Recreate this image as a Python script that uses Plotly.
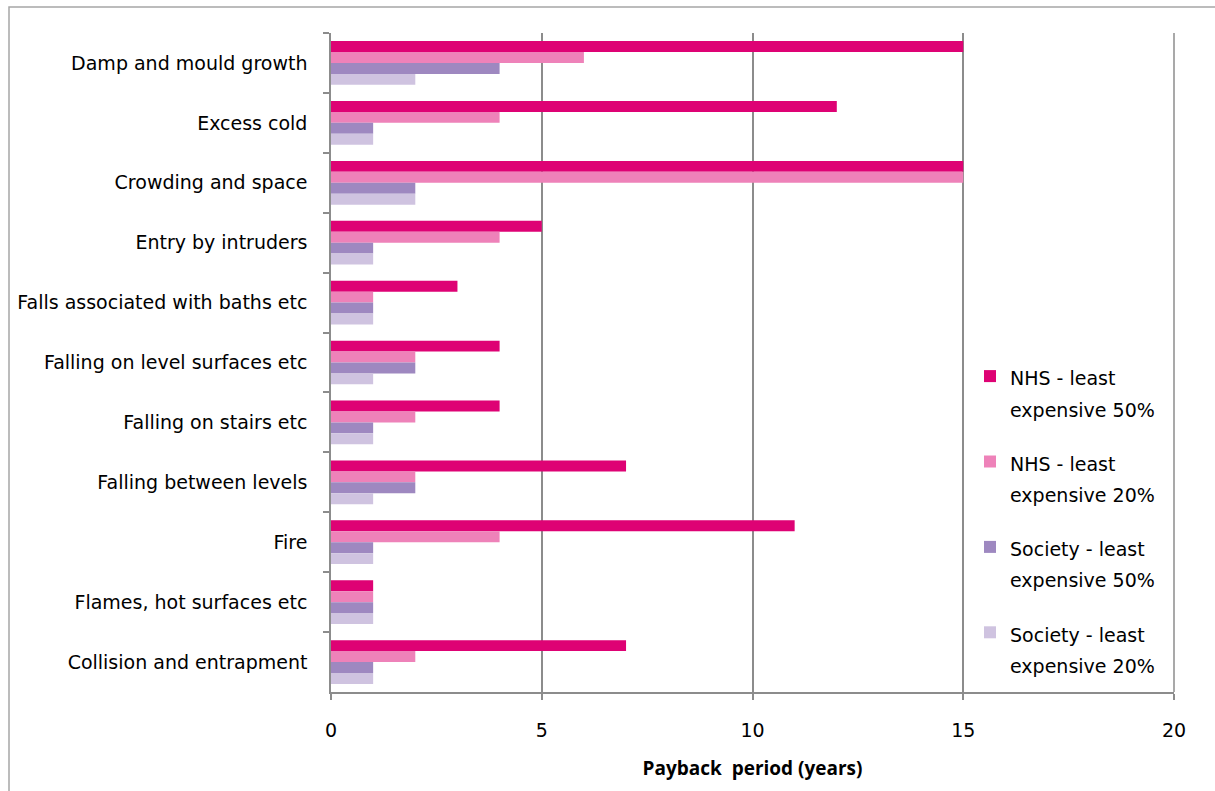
import plotly.graph_objects as go

categories = [
    "Damp and mould growth",
    "Excess cold",
    "Crowding and space",
    "Entry by intruders",
    "Falls associated with baths etc",
    "Falling on level surfaces etc",
    "Falling on stairs etc",
    "Falling between levels",
    "Fire",
    "Flames, hot surfaces etc",
    "Collision and entrapment",
]

nhs_50 = [15, 12, 15, 5, 3, 4, 4, 7, 11, 1, 7]
nhs_20 = [6, 4, 15, 4, 1, 2, 2, 2, 4, 1, 2]
society_50 = [4, 1, 2, 1, 1, 2, 1, 2, 1, 1, 1]
society_20 = [2, 1, 2, 1, 1, 1, 1, 1, 1, 1, 1]

series = [
    ("NHS - least", "expensive 50%", nhs_50, "#DE0274"),
    ("NHS - least", "expensive 20%", nhs_20, "#EE82B9"),
    ("Society - least", "expensive 50%", society_50, "#9E88C0"),
    ("Society - least", "expensive 20%", society_20, "#CFC3E0"),
]

FONT = "'DejaVu Sans', sans-serif"
TITLE_FONT = "'Open Sans', sans-serif"
GRID = "#8C8C8C"
TXT = 19

fig = go.Figure()
for i, (line1, line2, vals, color) in enumerate(series):
    label = (f"<span style='font-size:{TXT}px'>{line1}</span><br>"
             f"<span style='font-size:{TXT}px'>{line2}</span>")
    fig.add_trace(go.Bar(
        y=categories, x=vals, name=label, orientation="h",
        marker=dict(color=color, line=dict(width=0)),
        legendgroup=f"g{i}",
    ))

W, H = 1215, 791
L, R, T, B = 331, 41, 33, 99
pw, ph = W - L - R, H - T - B

def px_x(x):
    return (x - L) / pw

def px_y(y):
    return (H - B - y) / ph

fig.update_layout(
    width=W, height=H,
    margin=dict(l=L, r=R, t=T, b=B, pad=0),
    paper_bgcolor="white", plot_bgcolor="white",
    barmode="group", bargap=0.27, bargroupgap=0,
    font=dict(family=FONT, color="#000000", size=TXT),
    showlegend=True,
    legend=dict(
        x=px_x(970), y=px_y(354), xanchor="left", yanchor="top",
        font=dict(family=FONT, size=24, color="#000000"),
        bgcolor="rgba(0,0,0,0)", tracegroupgap=20,
        itemwidth=30, valign="top",
    ),
    xaxis=dict(
        range=[0, 20], tickvals=[0, 5, 10, 15, 20],
        showgrid=True, gridcolor=GRID, gridwidth=1.5,
        showline=True, linecolor=GRID, linewidth=1.5,
        ticks="outside", ticklen=6, tickcolor=GRID, tickwidth=1.5,
        tickfont=dict(family=FONT, size=TXT), ticklabelstandoff=14,
        zeroline=False, fixedrange=True,
        title=dict(text="<b>Payback  period (years)</b>",
                   font=dict(family=TITLE_FONT, size=19), standoff=22),
    ),
    yaxis=dict(
        autorange="reversed", type="category",
        showline=True, linecolor=GRID, linewidth=1.5,
        ticks="outside", ticklen=6, tickcolor=GRID, tickwidth=1.5,
        tickson="boundaries",
        tickfont=dict(family=FONT, size=TXT),
        showgrid=False, zeroline=False, ticklabelstandoff=18,
    ),
    shapes=[
        dict(type="line", xref="paper", yref="paper",
             x0=1, x1=1, y0=0, y1=1, line=dict(color=GRID, width=1.5)),
        dict(type="rect", xref="paper", yref="paper",
             x0=px_x(9), x1=px_x(1230), y0=px_y(7), y1=px_y(810),
             line=dict(color="#A6A6A6", width=1.5), layer="below"),
    ],
)

fig.write_html("out.html")
